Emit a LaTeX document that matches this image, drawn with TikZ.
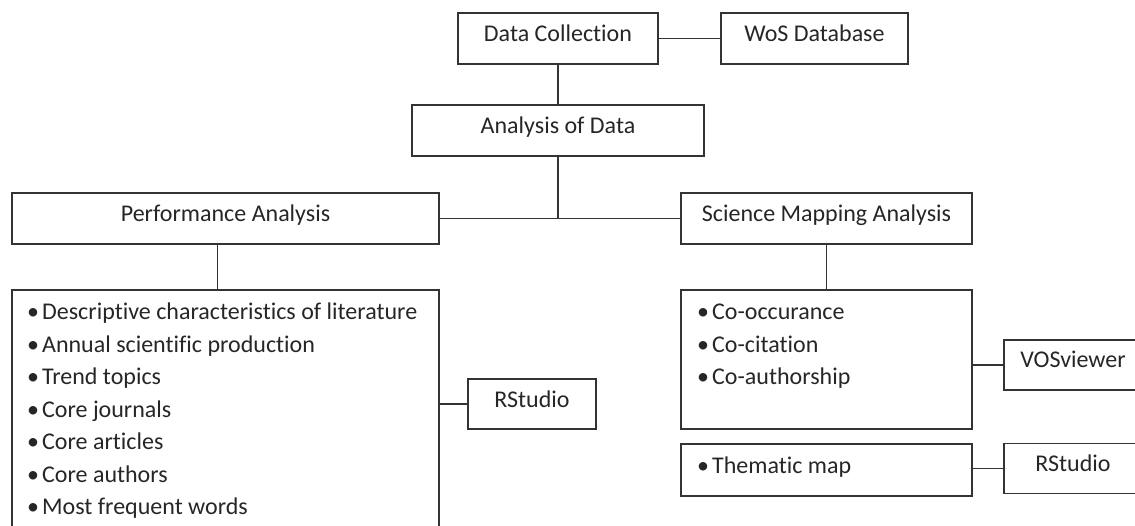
\documentclass[tikz,border=0pt]{standalone}
\usepackage{fontspec}
\setmainfont{Carlito}[Ligatures={NoCommon,NoRequired,NoContextual}]
\usetikzlibrary{calc}
\newcommand{\blt}{\textbullet\hspace{3pt}}
\begin{document}
\begin{tikzpicture}[x=1pt, y=-1pt,
    box/.style={draw=black!80, line width=1.3pt, inner sep=0pt, text=black!85,
        font=\fontsize{24}{28}\selectfont, text height=16pt, text depth=10pt},
    item/.style={anchor=base west, inner sep=0pt, text=black!85,
        font=\fontsize{24}{28}\selectfont},
    link/.style={draw=black!80, line width=1.3pt}]
    \useasboundingbox (0,0) rectangle (1135,526);
    \clip (0,0) rectangle (1135,526);

    % Draw nodes
    \node[box, minimum width=200pt, minimum height=51pt] (dc) at (558,38.5) {Data Collection};
    \node[box, minimum width=187pt, minimum height=51pt] (wos) at (814.5,38.5) {WoS Database};
    \node[box, minimum width=292pt, minimum height=51pt] (aod) at (558,130.5) {Analysis of Data};
    \node[box, minimum width=427pt, minimum height=51pt] (pa) at (225.5,218.5) {Performance Analysis};
    \node[box, minimum width=291pt, minimum height=51pt] (sma) at (826.5,218.5) {Science Mapping Analysis};
    \node[box, minimum width=427pt, minimum height=250pt] (plist) at (225.5,415) {};
    \node[box, minimum width=128pt, minimum height=50pt] (rs1) at (532,404) {RStudio};
    \node[box, minimum width=291pt, minimum height=139pt] (slist) at (826.5,359.5) {};
    \node[box, minimum width=138pt, minimum height=50pt] (vos) at (1073,365) {VOSviewer};
    \node[box, minimum width=291pt, minimum height=52pt] (tmap) at (826.5,470) {};
    \node[box, minimum width=138pt, minimum height=50pt] (rs2) at (1073,468.5) {RStudio};

    % List items
    \foreach \txt [count=\i] in {Descriptive characteristics of literature,
        Annual scientific production, Trend topics, Core journals,
        Core articles, Core authors, Most frequent words}
        \node[item] (p\i) at (27,{320+32.4*(\i-1)}) {\blt\txt};
    \foreach \txt [count=\i] in {Co-occurance, Co-citation, Co-authorship}
        \node[item] (s\i) at (697,{320+32.4*(\i-1)}) {\blt\txt};
    \node[item] (t1) at (697,473) {\blt Thematic map};

    % Draw edges
    \draw[link] (dc) -- (wos);
    \draw[link] (dc) -- (aod);
    \coordinate (jn) at (aod.south |- pa.east);
    \draw[link] (aod) -- (jn);
    \draw[link] (pa) -- (sma);
    \draw[link] ($(pa.south)+(-8,0)$) -- ($(plist.north)+(-8,0)$);
    \draw[link] (sma) -- (slist);
    \draw[link] (rs1.west -| plist.east) -- (rs1.west);
    \draw[link] (vos.west -| slist.east) -- (vos.west);
    \draw[link] (rs2.west -| tmap.east) -- (rs2.west);
\end{tikzpicture}
\end{document}
